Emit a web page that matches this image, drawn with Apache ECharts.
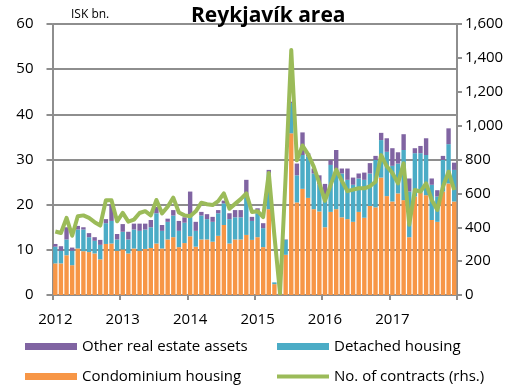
<!DOCTYPE html>
<html>
<head>
<meta charset="utf-8">
<script src="https://cdn.jsdelivr.net/npm/echarts@6/dist/echarts.min.js"></script>
<style>
  html, body { margin: 0; padding: 0; background: #fff; }
  #chart { width: 519px; height: 387px; }
</style>
</head>
<body>
<div id="chart"></div>
<script>
// Monthly turnover in the Reykjavík area, Jan 2012 - Dec 2017 (ISK bn.)
const years = ['2012', '2013', '2014', '2015', '2016', '2017'];

const condominium = [
  7.0, 7.0, 8.8, 6.6, 10.3, 9.7, 9.5, 9.2, 7.9, 11.3, 11.4, 9.8,
  10.1, 9.2, 10.3, 9.8, 10.2, 10.4, 11.4, 10.3, 12.3, 12.8, 10.6, 11.5,
  13.0, 10.7, 12.3, 12.3, 11.8, 13.1, 15.5, 11.4, 12.3, 12.3, 13.3, 12.2,
  12.8, 10.6, 19.0, 2.4, 0.3, 8.9, 35.8, 20.5, 23.5, 21.5, 19.0, 18.5,
  15.0, 18.4, 19.0, 17.2, 16.8, 16.2, 18.4, 17.1, 19.7, 19.4, 26.0, 21.9,
  20.7, 22.5, 21.0, 12.8, 21.8, 22.7, 22.1, 16.6, 16.2, 22.9, 24.7, 20.7
];

const detached = [
  3.7, 2.8, 3.5, 3.2, 4.2, 4.8, 3.3, 2.8, 3.2, 4.6, 5.0, 2.5,
  3.9, 3.1, 4.2, 4.4, 4.3, 4.6, 6.7, 3.9, 3.9, 4.8, 3.6, 4.5,
  4.5, 3.5, 5.3, 4.5, 4.4, 5.0, 4.8, 5.4, 4.9, 4.9, 8.5, 4.2,
  5.3, 4.2, 7.9, 0.4, 0.1, 3.3, 6.7, 6.0, 7.5, 9.2, 7.9, 6.0,
  6.5, 10.4, 8.7, 9.7, 8.7, 8.2, 7.4, 8.4, 7.2, 10.5, 8.3, 9.8,
  7.9, 6.6, 11.1, 10.1, 9.6, 8.7, 8.9, 7.8, 5.6, 7.0, 8.7, 7.0
];

const otherAssets = [
  0.6, 1.0, 2.7, 0.7, 0.8, 0.5, 0.9, 0.8, 1.1, 0.9, 3.7, 1.2,
  1.7, 1.7, 1.3, 1.6, 1.3, 1.6, 1.4, 1.3, 0.7, 1.2, 2.2, 1.2,
  5.4, 2.0, 0.8, 1.1, 1.1, 0.7, 0.6, 1.3, 1.6, 1.6, 3.7, 0.9,
  1.1, 1.1, 0.8, 0.0, 0.0, 0.1, 0.3, 2.6, 5.0, 0.7, 1.1, 2.0,
  3.1, 1.1, 4.4, 1.1, 2.5, 1.6, 1.1, 1.6, 2.3, 0.9, 1.6, 3.0,
  3.9, 2.5, 3.5, 2.9, 1.1, 1.6, 3.7, 1.4, 1.4, 0.9, 3.5, 1.6
];

const contracts = [
  375, 366, 455, 350, 465, 470, 455, 430, 410, 560, 560, 435,
  485, 433, 445, 484, 495, 470, 561, 482, 521, 575, 487, 470,
  465, 494, 545, 536, 531, 554, 600, 509, 538, 566, 600, 490,
  495, 460, 720, 350, 10, 700, 1446, 795, 883, 830, 758, 660,
  556, 649, 740, 674, 613, 622, 630, 630, 642, 669, 826, 760,
  720, 659, 777, 415, 620, 610, 659, 561, 502, 639, 728, 620
];

// one category per month, labelled with the year in January
const months = [];
years.forEach(function (y) {
  for (let m = 1; m <= 12; m++) months.push(y + '-' + (m < 10 ? '0' + m : m));
});

const FONT = '"Open Sans", "Liberation Sans", sans-serif';
const AXIS_GREY = '#8e8e8e';
const C_OTHER = '#8064A2', C_DET = '#4BACC6', C_CONDO = '#F79646', C_LINE = '#9BBB59';

const chart = echarts.init(document.getElementById('chart'), null, { renderer: 'canvas' });

function legendAt(left, top, name, h) {
  return {
    left: left, top: top, orient: 'horizontal',
    data: [{ name: name, icon: 'rect' }],
    itemWidth: 52, itemHeight: h, itemGap: 0,
    selectedMode: false,
    textStyle: { fontFamily: FONT, fontSize: 15, color: '#000' }
  };
}

chart.setOption({
  animation: false,
  textStyle: { fontFamily: FONT },
  title: [
    { text: 'Reykjavík area', left: 186, top: 1,
      textStyle: { fontFamily: FONT, fontSize: 21, fontWeight: 'bold', color: '#000' } },
    { text: 'ISK bn.', left: 66, top: 4,
      textStyle: { fontFamily: FONT, fontSize: 12, fontWeight: 'normal', color: '#000' } }
  ],
  legend: [
    legendAt(20, 334, 'Other real estate assets', 7),
    legendAt(272, 334, 'Detached housing', 7),
    legendAt(20, 364, 'Condominium housing', 7),
    legendAt(272, 364, 'No. of contracts (rhs.)', 4)
  ],
  grid: { left: 52.5, right: 62, top: 24, bottom: 92, containLabel: false },
  xAxis: {
    type: 'category',
    data: months,
    boundaryGap: true,
    axisLine: { lineStyle: { color: AXIS_GREY, width: 2 } },
    axisTick: { show: true, length: 5, lineStyle: { color: AXIS_GREY, width: 2 },
      interval: function (i) { return i % 12 === 0; } },
    axisLabel: {
      interval: function (i) { return i % 12 === 0; },
      formatter: function (v) { return v.slice(0, 4); },
      fontFamily: FONT, fontSize: 15, color: '#000', margin: 17
    },
    splitLine: { show: false }
  },
  yAxis: [
    {
      type: 'value', min: 0, max: 60, interval: 10, position: 'left',
      axisLine: { show: true, lineStyle: { color: AXIS_GREY, width: 2 } },
      axisTick: { show: true, length: 6, lineStyle: { color: AXIS_GREY, width: 2 } },
      axisLabel: { fontFamily: FONT, fontSize: 15, color: '#000', margin: 19 },
      splitLine: { show: true, lineStyle: { color: AXIS_GREY, width: 2 } }
    },
    {
      type: 'value', min: 0, max: 1600, interval: 200, position: 'right',
      axisLine: { show: true, lineStyle: { color: AXIS_GREY, width: 2 } },
      axisTick: { show: true, length: 5, lineStyle: { color: AXIS_GREY, width: 2 } },
      axisLabel: { fontFamily: FONT, fontSize: 15, color: '#000', margin: 8,
        formatter: function (v) { return v.toLocaleString('en-US'); } },
      splitLine: { show: false }
    }
  ],
  series: [
    { name: 'Condominium housing', type: 'bar', stack: 'total', data: condominium,
      itemStyle: { color: C_CONDO }, barCategoryGap: '22%' },
    { name: 'Detached housing', type: 'bar', stack: 'total', data: detached,
      itemStyle: { color: C_DET } },
    { name: 'Other real estate assets', type: 'bar', stack: 'total', data: otherAssets,
      itemStyle: { color: C_OTHER } },
    { name: 'No. of contracts (rhs.)', type: 'line', yAxisIndex: 1, data: contracts,
      showSymbol: false, symbol: 'none', z: 5,
      lineStyle: { color: C_LINE, width: 4, join: 'round' }, itemStyle: { color: C_LINE } }
  ]
});
</script>
</body>
</html>
